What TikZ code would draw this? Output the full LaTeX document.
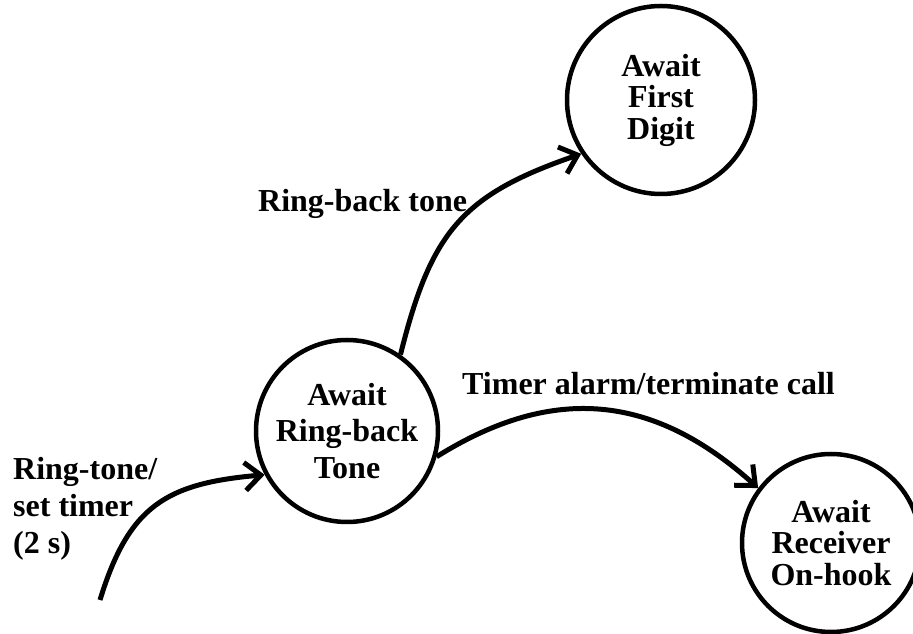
\documentclass[tikz,border=0pt]{standalone}
\usepackage{fontspec}
\setmainfont{Liberation Serif}
\usetikzlibrary{arrows.meta}
\begin{document}
\begin{tikzpicture}[x=1pt,y=1pt,
  state/.style={circle, draw, line width=4.5pt, inner sep=0pt, align=center,
    font=\bfseries\fontsize{32}{31.5}\selectfont},
  trans/.style={line width=5pt, -{Straight Barb[length=16pt,width=28pt]}},
  lbl/.style={inner sep=0pt, align=left, font=\bfseries\fontsize{32}{37}\selectfont}]
\fill[white] (0,0) rectangle (913,634);
\useasboundingbox (0,0) rectangle (913,634);
\clip (0,0) rectangle (913,634);
\node[state, minimum size=188pt] (fd) at (661,534) {Await\\First\\Digit};
\node[state, minimum size=182pt, font=\bfseries\fontsize{32}{36.5}\selectfont] (rb) at (347,203) {Await\\Ring-back\\Tone};
\node[state, minimum size=178pt] (rc) at (831,91) {Await\\Receiver\\On-hook};
\coordinate (init) at (100,34);
\draw[trans] (init) to[out=73,in=185,looseness=1.22] (rb.208);
\draw[trans] (rb.55) to[out=76,in=199,looseness=1.2] (fd.214);
\draw[trans] (rb.-16) to[out=32,in=138,looseness=1.1] (rc.143);
\node[lbl, anchor=base west] (l1) at (258,422) {Ring-back tone};
\node[lbl, anchor=base west] (l2) at (462,239) {Timer alarm/terminate call};
\node[lbl, anchor=north west] (l3) at (13,177) {Ring-tone/\\set timer\\(2 s)};
\end{tikzpicture}
\end{document}
